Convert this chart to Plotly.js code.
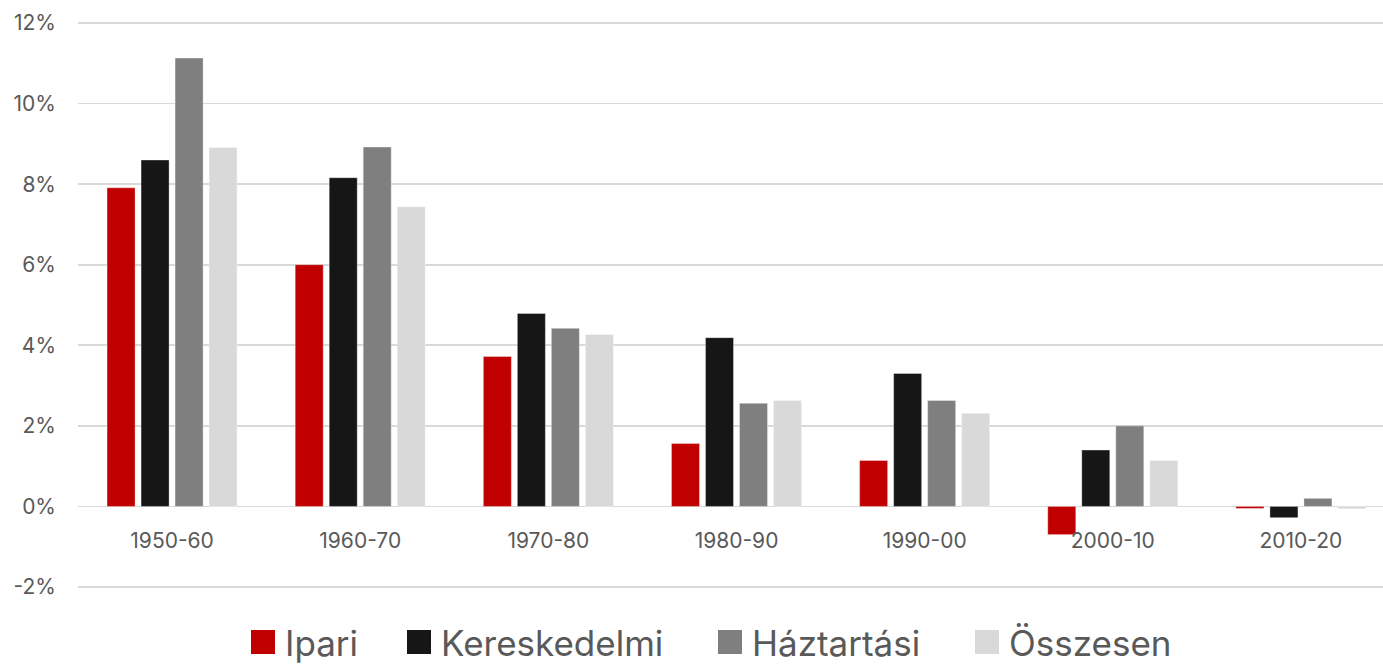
<!DOCTYPE html>
<html>
<head>
<meta charset="utf-8">
<script src="https://cdn.plot.ly/plotly-3.0.1.min.js"></script>
<style>
html, body { margin: 0; padding: 0; overflow: hidden; background: #fff; }
#chart { width: 1395px; height: 666px; }
</style>
</head>
<body>
<div id="chart"></div>
<script>
const categories = ["1950-60", "1960-70", "1970-80", "1980-90", "1990-00", "2000-10", "2010-20"];
const ipari        = [7.91, 6.00, 3.72, 1.56, 1.14, -0.70, -0.05];
const kereskedelmi = [8.60, 8.16, 4.79, 4.19, 3.30, 1.40, -0.28];
const haztartasi   = [11.13, 8.92, 4.42, 2.56, 2.63, 2.00, 0.20];
const osszesen     = [8.91, 7.44, 4.27, 2.63, 2.31, 1.14, -0.06];
const seriesNames  = ["Ipari", "Kereskedelmi", "Háztartási", "Összesen"];
const seriesColors = ["#C00000", "#161616", "#7F7F7F", "#D9D9D9"];
const yTicks = [-2, 0, 2, 4, 6, 8, 10, 12];

const FONT = "Inter, 'Liberation Sans', Arial, sans-serif";
const W = 1395;
const legendIds = ["legend", "legend2", "legend3", "legend4"];
const legendLeft = [241, 397, 708, 965];   // px position of each legend entry

const values = [ipari, kereskedelmi, haztartasi, osszesen];
const traces = values.map((v, i) => ({
  type: "bar",
  name: seriesNames[i],
  legend: legendIds[i],
  x: categories,
  y: v,
  marker: { color: seriesColors[i], line: { color: "rgba(255,255,255,0.35)", width: 1 } },
  hoverinfo: "x+y+name"
}));

const layout = {
  width: W,
  height: 666,
  margin: { l: 78, r: 0, t: 21, b: 77 },
  paper_bgcolor: "#ffffff",
  plot_bgcolor: "#ffffff",
  barmode: "group",
  bargap: 0.277,
  bargroupgap: 0.176,
  font: { family: FONT, color: "#595959" },
  showlegend: true,
  xaxis: {
    type: "category",
    showgrid: false,
    showline: false,
    zeroline: false,
    ticks: "",
    tickfont: { family: FONT, size: 21, color: "#595959" },
    ticklabelstandoff: -63
  },
  yaxis: {
    range: [-2.05, 12.05],
    tickvals: yTicks,
    ticktext: yTicks.map(t => t + "%"),
    showgrid: true,
    gridcolor: "#D9D9D9",
    gridwidth: 1.6,
    zeroline: true,
    zerolinecolor: "#D9D9D9",
    zerolinewidth: 1.6,
    showline: false,
    ticks: "",
    ticklabelstandoff: 21,
    tickfont: { family: FONT, size: 21, color: "#595959" }
  }
};
legendIds.forEach((id, i) => {
  layout[id] = {
    orientation: "h",
    xref: "container",
    x: legendLeft[i] / W,
    xanchor: "left",
    yref: "container",
    y: 0.080,
    yanchor: "top",
    itemwidth: 34,
    bgcolor: "rgba(0,0,0,0)",
    font: { family: FONT, size: 35, color: "#595959" },
    itemclick: false,
    itemdoubleclick: false
  };
});

Plotly.newPlot("chart", traces, layout, { displayModeBar: false, staticPlot: true }).then(gd => {
  gd.querySelectorAll("g.legendpoints path").forEach(p => {
    p.setAttribute("transform", (p.getAttribute("transform") || "") + " scale(2)");
    p.style.strokeWidth = "0";
  });
});
</script>
</body>
</html>
